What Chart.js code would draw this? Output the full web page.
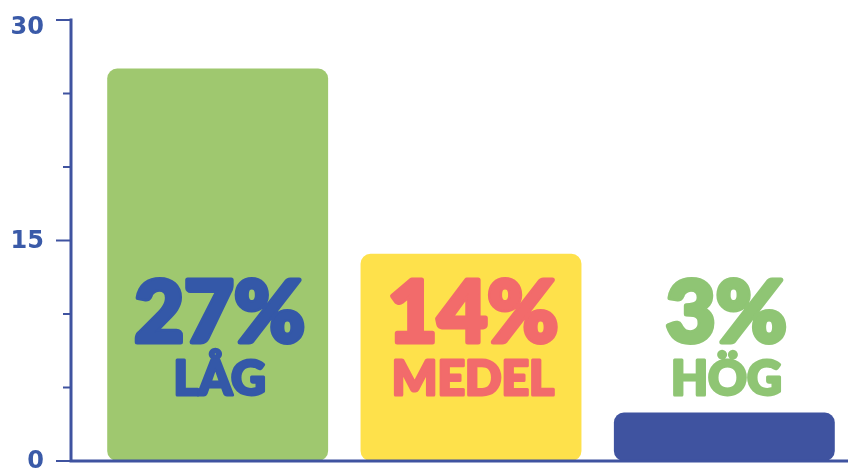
<!DOCTYPE html>
<html>
<head>
<meta charset="utf-8">
<script src="https://cdn.jsdelivr.net/npm/chart.js@4.4.1/dist/chart.umd.min.js"></script>
<style>
  html, body { margin: 0; padding: 0; background: #fff; overflow: hidden; }
  #wrap { width: 848px; height: 468px; overflow: hidden; }
</style>
</head>
<body>
<div id="wrap"><canvas id="riskChart" width="851" height="468"></canvas></div>
<script>
// data
const categories = ['LÅG', 'MEDEL', 'HÖG'];
const shares = [26.7, 14.1, 3.3];
const yTicks = [0, 5, 10, 15, 20, 25, 30];
const yTickLabels = ['0', '', '', '15', '', '', '30'];

const barColors = ['#9fc86f', '#fee14b', '#3f53a0'];
const textColors = ['#3458a8', '#f26b6b', '#8fc574'];
const axisColor = '#3f53a0';
const labelFont = 'Lato, sans-serif';
const AXIS_X = 71; // y axis sits a bit left of the first category band

// axes drawn by hand from the y scale (long ticks for labelled values, short for others)
const axesPlugin = {
    id: 'axes',
    afterDatasetsDraw(chart) {
        const { ctx } = chart;
        const y = chart.scales.y;
        ctx.save();
        ctx.strokeStyle = axisColor;
        ctx.lineWidth = 3;
        const yBottom = y.getPixelForValue(0);
        const yTop = y.getPixelForValue(30);
        ctx.beginPath();
        ctx.moveTo(AXIS_X, yTop - 1.5);
        ctx.lineTo(AXIS_X, yBottom + 1.5);
        ctx.moveTo(AXIS_X - 1.5, yBottom);
        ctx.lineTo(chart.width, yBottom);
        ctx.stroke();

        ctx.lineWidth = 2;
        ctx.fillStyle = '#3a5aa8';
        ctx.font = 'bold 24px "DejaVu Sans", sans-serif';
        ctx.textAlign = 'right';
        ctx.textBaseline = 'middle';
        yTicks.forEach((v, i) => {
            const py = y.getPixelForValue(v);
            const major = yTickLabels[i] !== '';
            ctx.beginPath();
            ctx.moveTo(AXIS_X - (major ? 15 : 8), py);
            ctx.lineTo(AXIS_X, py);
            ctx.stroke();
            if (major) {
                ctx.fillText(yTickLabels[i], 44, Math.max(py + 1, 28));
            }
        });
        ctx.restore();
    }
};

// big percentage + category text, stroked a little for the chunky rounded look
const labelPlugin = {
    id: 'barLabels',
    afterDatasetsDraw(chart) {
        const { ctx } = chart;
        const y = chart.scales.y;
        const meta = chart.getDatasetMeta(0);
        ctx.save();
        ctx.textAlign = 'center';
        ctx.textBaseline = 'alphabetic';
        ctx.lineJoin = 'round';
        meta.data.forEach((bar, i) => {
            const pct = Math.round(shares[i]) + '%';
            const cx = bar.x + 2;
            ctx.fillStyle = textColors[i];
            ctx.strokeStyle = textColors[i];
            const pctY = y.getPixelForValue(8.1);
            ctx.font = '900 86px ' + labelFont;
            ctx.lineWidth = 5;
            ctx.strokeText(pct, cx, pctY);
            ctx.fillText(pct, cx, pctY);
            const catY = y.getPixelForValue(4.5);
            ctx.font = '900 48px ' + labelFont;
            ctx.lineWidth = 3;
            ctx.strokeText(categories[i], cx, catY);
            ctx.fillText(categories[i], cx, catY);
        });
        ctx.restore();
    }
};

function drawChart() {
    new Chart(document.getElementById('riskChart'), {
        type: 'bar',
        data: {
            labels: categories,
            datasets: [{
                data: shares,
                backgroundColor: barColors,
                borderRadius: 10,
                borderSkipped: false,
                categoryPercentage: 1,
                barPercentage: 0.872
            }]
        },
        options: {
            responsive: false,
            animation: false,
            layout: { padding: { left: 91, top: 20, right: 0, bottom: 7 } },
            plugins: { legend: { display: false }, tooltip: { enabled: false } },
            scales: {
                x: { display: false },
                y: { min: 0, max: 30, ticks: { stepSize: 5 }, display: false }
            }
        },
        plugins: [axesPlugin, labelPlugin]
    });
}

// make sure the fonts are ready before the one and only draw
Promise.all([
    document.fonts.load('900 86px Lato', 'LÅGMEDELHÖG0123456789%'),
    document.fonts.load('bold 24px "DejaVu Sans"', '0123456789')
]).catch(() => {}).then(drawChart);
</script>
</body>
</html>
